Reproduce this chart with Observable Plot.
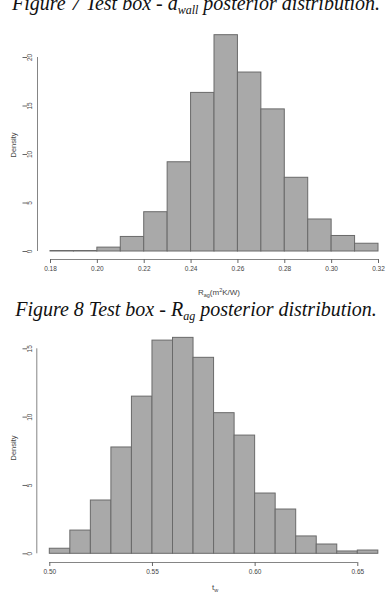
<!DOCTYPE html>
<html>
<head>
<meta charset="utf-8">
<script src="https://cdn.jsdelivr.net/npm/d3@7"></script>
<script src="https://cdn.jsdelivr.net/npm/@observablehq/plot@0.6"></script>
<style>
  html, body { margin: 0; padding: 0; background: #fff; }
  #page { position: relative; width: 392px; height: 600px; overflow: hidden; }
  .cap { position: absolute; left: 0; width: 392px; text-align: center; font-family: "Liberation Serif", "DejaVu Serif", serif; font-style: italic; font-size: 20px; line-height: 20px; color: #111; white-space: nowrap; }
  .cap sub { font-size: 12px; vertical-align: baseline; position: relative; top: 4px; }
  .lbl { position: absolute; font-family: "Liberation Sans", Arial, sans-serif; font-size: 7.5px; line-height: 9px; color: #444; white-space: nowrap; }
  .lbl sub, .lbl sup { font-size: 5.5px; vertical-align: baseline; position: relative; }
  .lbl sub { top: 2px; }
  .lbl sup { top: -3px; }
  .ylbl { transform: translate(-50%, -50%) rotate(-90deg); }
  .xlbl { transform: translate(-50%, -50%); font-size: 8px; }
  .chart { position: absolute; left: 0; }
</style>
</head>
<body>
<div id="page">
  <div class="cap" style="top:-7px">Figure 7 Test box - d<sub>wall</sub> posterior distribution.</div>
  <div class="chart" id="c1" style="top:30px"></div>
  <div class="lbl ylbl" style="left:13px; top:145px">Density</div>
  <div class="lbl xlbl" style="left:219px; top:293px">R<sub>ag</sub>(m<sup>2</sup>K/W)</div>
  <div class="cap" style="top:299px">Figure 8 Test box - R<sub>ag</sub> posterior distribution.</div>
  <div class="chart" id="c2" style="top:325px"></div>
  <div class="lbl ylbl" style="left:13px; top:448px">Density</div>
  <div class="lbl xlbl" style="left:215px; top:588px">t<sub>w</sub></div>
</div>
<script>
// ---- Data: Figure 7 histogram (R_ag) ----
const bins1 = [0.18, 0.19, 0.20, 0.21, 0.22, 0.23, 0.24, 0.25, 0.26, 0.27, 0.28, 0.29, 0.30, 0.31, 0.32];
const dens1 = [0.05, 0.05, 0.4, 1.5, 4.05, 9.2, 16.35, 22.3, 18.45, 14.65, 7.6, 3.3, 1.6, 0.8];
const xTicks1 = [0.18, 0.20, 0.22, 0.24, 0.26, 0.28, 0.30, 0.32];
const yTicks1 = [0, 5, 10, 15, 20];

// ---- Data: Figure 8 histogram (t_w) ----
const bins2 = [0.50, 0.51, 0.52, 0.53, 0.54, 0.55, 0.56, 0.57, 0.58, 0.59, 0.60, 0.61, 0.62, 0.63, 0.64, 0.65, 0.66];
const dens2 = [0.37, 1.7, 3.9, 7.78, 11.5, 15.6, 15.8, 14.34, 10.29, 8.65, 4.41, 3.24, 1.27, 0.68, 0.17, 0.24];
const xTicks2 = [0.50, 0.55, 0.60, 0.65];
const yTicks2 = [0, 5, 10, 15];

const AXIS = "#666";
const TXT = "#444";
const FILL = "#a9a9a9";
const EDGE = "#6a6a6a";

function hist(bins, dens, xTicks, yTicks, opt) {
  const rows = dens.map((d, i) => ({x1: bins[i], x2: bins[i + 1], d}));
  const x0 = xTicks[0];
  return Plot.plot({
    width: 392,
    height: opt.height,
    marginTop: 0,
    marginBottom: opt.marginBottom,
    style: {fontFamily: "Liberation Sans, Arial, sans-serif", background: "white"},
    x: {domain: [xTicks[0], xTicks[xTicks.length - 1]], range: opt.xRange},
    y: {domain: [yTicks[0], yTicks[yTicks.length - 1]], range: opt.yRange},
    marks: [
      Plot.rectY(rows, {x1: "x1", x2: "x2", y: "d", fill: FILL, stroke: EDGE, strokeWidth: 1}),
      // y axis (R style, offset to the left)
      Plot.ruleX([x0], {y1: yTicks[0], y2: yTicks[yTicks.length - 1], dx: opt.yAxisDx, stroke: AXIS, strokeWidth: 0.8}),
      Plot.axisY({ticks: yTicks, anchor: "left", tickSize: 4.5, dx: opt.yAxisDx, tickFormat: () => "", stroke: AXIS, label: null}),
      Plot.text(yTicks, {x: x0, y: d => d, text: d => String(d), dx: opt.yLabelDx, rotate: -90,
                         textAnchor: "middle", lineAnchor: "middle", fontSize: 6.5, fill: TXT}),
      // x axis (R style, offset below)
      Plot.ruleY([yTicks[0]], {x1: xTicks[0], x2: xTicks[xTicks.length - 1], dy: opt.xAxisDy, stroke: AXIS, strokeWidth: 0.8}),
      Plot.axisX({ticks: xTicks, anchor: "bottom", tickSize: 4, tickPadding: 2.5, tickFormat: d3.format(".2f"),
                  fontSize: 6.5, color: TXT, stroke: AXIS, label: null})
    ]
  });
}

// chart 1 occupies page y 30..275
document.getElementById("c1").appendChild(hist(bins1, dens1, xTicks1, yTicks1, {
  height: 245, marginBottom: 16,
  xRange: [50, 378],
  yRange: [221, 27],
  yAxisDx: -13, yLabelDx: -20.5, xAxisDy: 8
}));

// chart 2 occupies page y 325..580
document.getElementById("c2").appendChild(hist(bins2, dens2, xTicks2, yTicks2, {
  height: 255, marginBottom: 18,
  xRange: [49.3, 357.3],
  yRange: [228.3, 23.3],
  yAxisDx: -13, yLabelDx: -19.5, xAxisDy: 8.7
}));
</script>
</body>
</html>
